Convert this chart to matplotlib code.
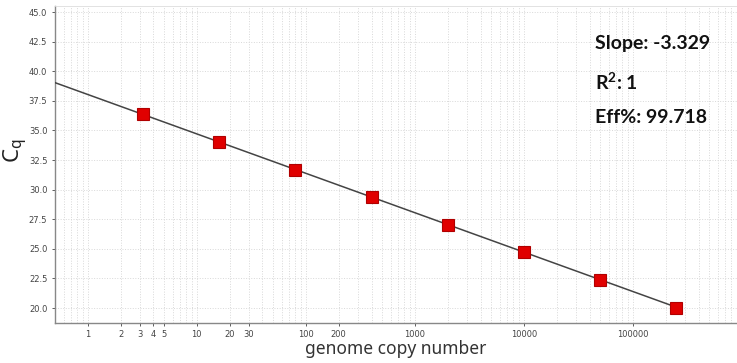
import numpy as np
import matplotlib.pyplot as plt
from matplotlib.ticker import FixedLocator, FixedFormatter, LogLocator, NullFormatter

copies = [3.2, 16, 80, 400, 2000, 10000, 50000, 250000]
cq = [36.4, 34.05, 31.7, 29.35, 27.05, 24.75, 22.4, 20.0]
slope = -3.329
r2 = 1
eff = 99.718
xtick_vals = [1, 2, 3, 4, 5, 10, 20, 30, 100, 200, 1000, 10000, 100000]

fig = plt.figure(figsize=(7.37, 3.63), dpi=100)
ax = fig.add_axes([0.0746, 0.110, 0.9254, 0.873])

intercept = np.mean(np.array(cq) - slope*np.log10(copies))
xl = np.array([0.5, copies[-1]])
ax.plot(xl, intercept + slope*np.log10(xl), color='#444444', lw=1.1, zorder=3)
ax.plot(copies, cq, 's', ms=8.5, mfc='#e00000', mec='#b00000', mew=0.8, zorder=4, ls='none')

ax.set_xscale('log')
ax.set_xlim(0.5, 9.0e5)
ax.set_ylim(18.73, 45.5)
ax.set_yticks(np.arange(20, 45.1, 2.5))
ax.set_yticklabels(['%.1f' % v for v in np.arange(20, 45.1, 2.5)])
ax.xaxis.set_major_locator(FixedLocator(xtick_vals))
ax.xaxis.set_major_formatter(FixedFormatter([str(v) for v in xtick_vals]))
ax.xaxis.set_minor_locator(LogLocator(base=10, subs=np.arange(2, 10), numticks=20))
ax.xaxis.set_minor_formatter(NullFormatter())
ax.tick_params(axis='both', labelsize=6, colors='#444444', length=2, width=0.6)
ax.tick_params(axis='x', which='minor', length=0)
ax.tick_params(axis='x', pad=3)

ax.grid(True, which='both', axis='x', ls=':', color='#d8d8d8', lw=0.7)
ax.grid(True, which='major', axis='y', ls=':', color='#d8d8d8', lw=0.7)
ax.set_axisbelow(True)

for s in ['left', 'bottom']:
    ax.spines[s].set_color('#888888')
    ax.spines[s].set_linewidth(1.0)
ax.spines['top'].set_color('#dddddd')
ax.spines['top'].set_linewidth(0.6)
ax.spines['right'].set_visible(False)

ax.set_xlabel('genome copy number', fontsize=12.5, color='#333333', family='Noto Sans', labelpad=1)
fig.text(0.022, 0.585, 'C$_\\mathregular{q}$', fontsize=16, color='#222222', family='Noto Sans',
         rotation=90, ha='center', va='center')

txt = dict(fontsize=14, fontweight='bold', family='Lato', color='#111111', transform=fig.transFigure)
fig.text(0.808, 0.88, 'Slope: %.3f' % slope, va='center', **txt)
fig.text(0.808, 0.775, 'R$^\\mathregular{2}$: %d' % r2, va='center', **txt)
fig.text(0.808, 0.677, 'Eff%%: %.3f' % eff, va='center', **txt)

fig.savefig('out.png', dpi=100)
